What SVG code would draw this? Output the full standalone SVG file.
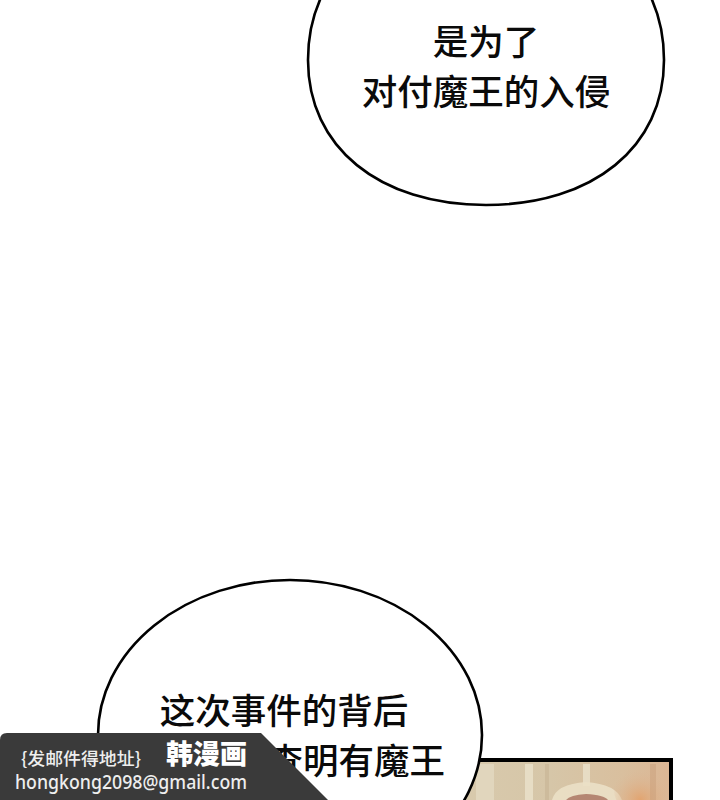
<svg xmlns="http://www.w3.org/2000/svg" width="720" height="800" viewBox="0 0 720 800">
<style>
.bubble{fill:#ffffff;stroke:#000000;stroke-width:2.6}
.speech{font-family:"Noto Sans CJK SC","Noto Sans",sans-serif;font-size:35.5px;font-weight:500;fill:#0a0a0a}
.wm-small{font-family:"Noto Sans CJK SC","Noto Sans",sans-serif;font-size:17.5px;font-weight:500;fill:#eeeeee}
.wm-big{font-family:"Noto Sans CJK SC",sans-serif;font-size:27px;font-weight:900;fill:#ffffff}
.wm-mail{font-family:"Noto Sans","Open Sans",sans-serif;font-size:19px;font-weight:500;fill:#eeeeee}
</style>
<defs>
<linearGradient id="panelBg" x1="0" y1="0" x2="1" y2="0">
<stop offset="0" stop-color="#d9cbae"/>
<stop offset="0.5" stop-color="#d6c6a8"/>
<stop offset="0.8" stop-color="#d9bf9e"/>
<stop offset="1" stop-color="#dcb694"/>
</linearGradient>
<radialGradient id="fire" cx="0.5" cy="0.7" r="0.6">
<stop offset="0" stop-color="#e2a470"/>
<stop offset="1" stop-color="#dcb694" stop-opacity="0"/>
</radialGradient>
</defs>
<rect width="720" height="800" fill="#ffffff"/>

<g id="panel">
<rect x="430" y="760" width="241" height="50" fill="url(#panelBg)" stroke="#000000" stroke-width="4"/>
<rect x="476" y="764" width="18" height="40" fill="#e6dcc4" opacity="0.7"/>
<rect x="525" y="764" width="8" height="40" fill="#ebe2cc" opacity="0.8"/>
<rect x="545" y="764" width="4" height="40" fill="#c4b090" opacity="0.5"/>
<rect x="583" y="764" width="7" height="22" fill="#ebe2cc" opacity="0.8"/>
<path d="M552,800 Q556,784 586,782 Q616,784 622,800 Z" fill="#ebe0c6" opacity="0.9"/>
<path d="M566,800 Q570,795 586,794 Q604,795 608,800 Z" fill="#a8705e" opacity="0.8"/>
<ellipse cx="640" cy="790" rx="26" ry="24" fill="url(#fire)"/>
<rect x="650" y="764" width="6" height="40" fill="#c9a07c" opacity="0.5"/>
</g>

<g id="bubble-top">
<path class="bubble" d="M308,60 C308,-32 380,-90 486,-90 C592,-90 664,-32 664,60 C664,147 593,205 486,205 C379,205 308,147 308,60 Z"/>
<text class="speech" x="486" y="55" text-anchor="middle">是为了</text>
<text class="speech" x="486" y="105" text-anchor="middle">对付魔王的入侵</text>
</g>

<g id="bubble-bottom">
<ellipse class="bubble" cx="290" cy="735" rx="192" ry="155"/>
<text class="speech" x="284" y="724" text-anchor="middle">这次事件的背后</text>
<text class="speech" x="445" y="774" text-anchor="end">查明有魔王</text>
</g>

<g id="watermark">
<path d="M0,740 Q0,733 7,733 L261,733 L330,802 L0,802 Z" fill="#3a3a3a"/>
<text class="wm-small" x="21" y="765" textLength="120" lengthAdjust="spacingAndGlyphs">{发邮件得地址}</text>
<text class="wm-big" x="166" y="764" textLength="81" lengthAdjust="spacingAndGlyphs">韩漫画</text>
<text class="wm-mail" x="15" y="789" textLength="232" lengthAdjust="spacingAndGlyphs">hongkong2098@gmail.com</text>
</g>
</svg>
